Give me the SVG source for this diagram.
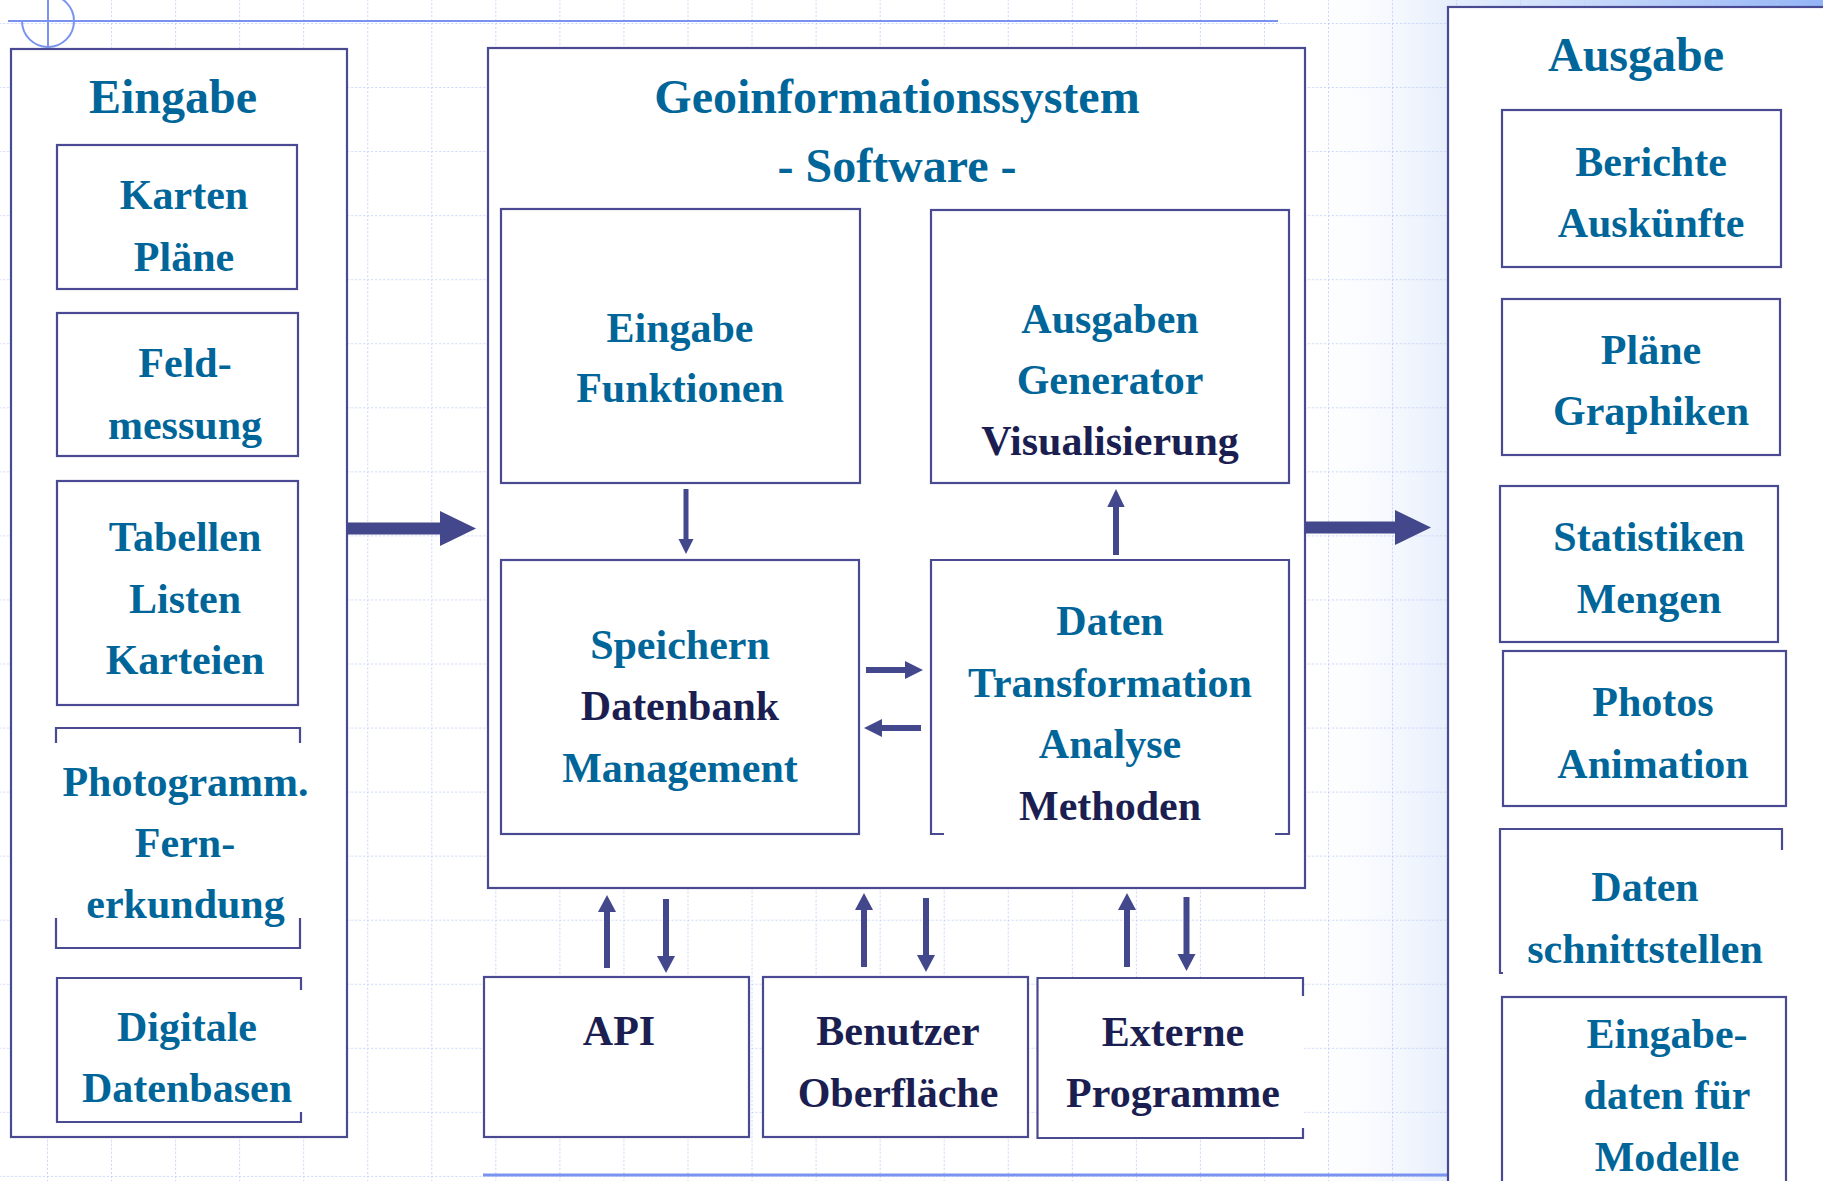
<svg xmlns="http://www.w3.org/2000/svg" width="1823" height="1181" viewBox="0 0 1823 1181">
<defs>
<pattern id="grid" x="-17.05" y="-41.05" width="64.05" height="64.05" patternUnits="userSpaceOnUse">
<line x1="0" y1="0" x2="64.05" y2="0" stroke="#b9c9f7" stroke-width="1.6" stroke-dasharray="2 2"/>
<line x1="0" y1="0" x2="0" y2="64.05" stroke="#b9c9f7" stroke-width="1.6" stroke-dasharray="2 2"/>
</pattern>
<linearGradient id="side" x1="1290" y1="0" x2="1823" y2="0" gradientUnits="userSpaceOnUse">
<stop offset="0" stop-color="#ffffff" stop-opacity="0"/>
<stop offset="0.3" stop-color="#e6eefc"/>
<stop offset="1" stop-color="#93b4f6"/>
</linearGradient>
<style>
.box{fill:#ffffff;stroke:#4a4a92;stroke-width:2.2}
.edge{fill:none;stroke:#4a4a92;stroke-width:2.2}
.t{font-family:"Liberation Serif","Times New Roman",serif;font-weight:bold;font-size:42px;text-anchor:middle;fill:#006699}
.n{fill:#1b1e50}
.big{font-size:48px}
.shaft{stroke:#43478c;fill:none}
.head{fill:#43478c}
</style>
</defs>
<rect width="1823" height="1181" fill="#ffffff"/>
<rect x="1290" y="0" width="533" height="1181" fill="url(#side)"/>
<rect width="1823" height="1181" fill="url(#grid)"/>
<g id="decor" stroke="#7b93f0" stroke-width="2" fill="none">
<line x1="8" y1="21" x2="1278" y2="21"/>
<path d="M22 21 A26 26 0 1 0 48 -5"/>
<line x1="48" y1="0" x2="48" y2="47"/>
<line x1="483" y1="1175" x2="1448" y2="1175" stroke-width="3"/>
</g>

<g id="eingabe">
<rect class="box" x="11" y="49" width="336" height="1088" stroke-width="2.5"/>
<text class="t big" x="173" y="113">Eingabe</text>
</g>
<g id="karten">
<rect class="box" x="57" y="145" width="240" height="144"/>
<text class="t" x="184" y="209">Karten</text>
<text class="t" x="184" y="271">Pläne</text>
</g>
<g id="feldmessung">
<rect class="box" x="57" y="313" width="241" height="143"/>
<text class="t" x="185" y="377">Feld-</text>
<text class="t" x="185" y="439">messung</text>
</g>
<g id="tabellen">
<rect class="box" x="57" y="481" width="241" height="224"/>
<text class="t" x="185" y="551">Tabellen</text>
<text class="t" x="185" y="613">Listen</text>
<text class="t" x="185" y="674">Karteien</text>
</g>
<g id="photogramm">
<path class="edge" d="M56 743 V728 H300 V743 M56 918 V948 H300 V918"/>
<text class="t" x="185.5" y="796">Photogramm.</text>
<text class="t" x="185" y="857">Fern-</text>
<text class="t" x="185.5" y="918">erkundung</text>
</g>
<g id="digitale">
<path class="edge" d="M301 990 V978 H57 V1122 H301 V1112"/>
<text class="t" x="187" y="1041">Digitale</text>
<text class="t" x="187" y="1102">Datenbasen</text>
</g>

<g id="gis">
<rect class="box" x="488" y="48" width="817" height="840" stroke-width="2.5"/>
<text class="t big" x="897" y="113">Geoinformationssystem</text>
<text class="t big" x="897" y="182">- Software -</text>
</g>
<g id="eingabefunktionen">
<rect class="box" x="501" y="209" width="359" height="274"/>
<text class="t" x="680" y="342">Eingabe</text>
<text class="t" x="680" y="402">Funktionen</text>
</g>
<g id="ausgabengenerator">
<rect class="box" x="931" y="210" width="358" height="273"/>
<text class="t" x="1110" y="333">Ausgaben</text>
<text class="t" x="1110" y="394">Generator</text>
<text class="t n" x="1110" y="455">Visualisierung</text>
</g>
<g id="speichern">
<rect class="box" x="501" y="560" width="358" height="274"/>
<text class="t" x="680" y="659">Speichern</text>
<text class="t n" x="680" y="720">Datenbank</text>
<text class="t" x="680" y="782">Management</text>
</g>
<g id="datentransformation">
<rect x="931" y="560" width="358" height="274" fill="#ffffff"/>
<path class="edge" d="M944 834 H931 V560 H1289 V834 H1275"/>
<text class="t" x="1110" y="635">Daten</text>
<text class="t" x="1110" y="697">Transformation</text>
<text class="t" x="1110" y="758">Analyse</text>
<text class="t n" x="1110" y="820">Methoden</text>
</g>

<g id="api">
<rect class="box" x="484" y="977" width="265" height="160"/>
<text class="t n" x="619" y="1045">API</text>
</g>
<g id="benutzer">
<rect class="box" x="763" y="977" width="265" height="160"/>
<text class="t n" x="898" y="1045">Benutzer</text>
<text class="t n" x="898" y="1107">Oberfläche</text>
</g>
<g id="externe">
<rect x="1037.5" y="978" width="265.5" height="160" fill="#ffffff"/>
<path class="edge" d="M1303 996 V978 H1037.5 V1138 H1303 V1128"/>
<text class="t n" x="1173" y="1046">Externe</text>
<text class="t n" x="1173" y="1107">Programme</text>
</g>

<g id="ausgabe">
<rect class="box" x="1448" y="7" width="400" height="1200" stroke-width="2.5"/>
<text class="t big" x="1636" y="71">Ausgabe</text>
</g>
<g id="berichte">
<rect class="box" x="1502" y="110" width="279" height="157"/>
<text class="t" x="1651" y="176">Berichte</text>
<text class="t" x="1651" y="237">Auskünfte</text>
</g>
<g id="plaene">
<rect class="box" x="1502" y="299" width="278" height="156"/>
<text class="t" x="1651" y="364">Pläne</text>
<text class="t" x="1651" y="425">Graphiken</text>
</g>
<g id="statistiken">
<rect class="box" x="1500" y="486" width="278" height="156"/>
<text class="t" x="1649" y="551">Statistiken</text>
<text class="t" x="1649" y="613">Mengen</text>
</g>
<g id="photos">
<rect class="box" x="1503" y="651" width="283" height="155"/>
<text class="t" x="1653" y="716">Photos</text>
<text class="t" x="1653" y="778">Animation</text>
</g>
<g id="datenschnittstellen">
<path class="edge" d="M1503 973 H1500 V829 H1782 V850"/>
<text class="t" x="1645" y="901">Daten</text>
<text class="t" x="1645" y="963">schnittstellen</text>
</g>
<g id="eingabedaten">
<rect class="box" x="1502" y="997" width="284" height="200"/>
<text class="t" x="1667" y="1048">Eingabe-</text>
<text class="t" x="1667" y="1109">daten für</text>
<text class="t" x="1667" y="1171">Modelle</text>
</g>

<g id="connectors">
<line class="shaft" x1="347" y1="528.5" x2="441" y2="528.5" stroke-width="12"/>
<polygon class="head" points="440,511 476,528.5 440,546"/>
<line class="shaft" x1="1305" y1="527.5" x2="1396" y2="527.5" stroke-width="12"/>
<polygon class="head" points="1395,510 1431,527.5 1395,545"/>
<line class="shaft" x1="686" y1="489" x2="686" y2="540" stroke-width="5"/>
<polygon class="head" points="678.5,539 693.5,539 686,554"/>
<line class="shaft" x1="1116" y1="555" x2="1116" y2="505" stroke-width="6"/>
<polygon class="head" points="1107.3,507 1124.7,507 1116,489"/>
<line class="shaft" x1="866" y1="670" x2="906" y2="670" stroke-width="6"/>
<polygon class="head" points="905,661 923,670 905,679"/>
<line class="shaft" x1="921" y1="728" x2="880" y2="728" stroke-width="6"/>
<polygon class="head" points="882,719 864,728 882,737"/>
<line class="shaft" x1="607" y1="968" x2="607" y2="910" stroke-width="6"/>
<polygon class="head" points="598,912 616,912 607,895"/>
<line class="shaft" x1="666" y1="899" x2="666" y2="958" stroke-width="6"/>
<polygon class="head" points="657,956 675,956 666,973"/>
<line class="shaft" x1="864" y1="967" x2="864" y2="908" stroke-width="6"/>
<polygon class="head" points="855,910 873,910 864,893"/>
<line class="shaft" x1="926" y1="898" x2="926" y2="957" stroke-width="6"/>
<polygon class="head" points="917,955 935,955 926,972"/>
<line class="shaft" x1="1127" y1="967" x2="1127" y2="908" stroke-width="6"/>
<polygon class="head" points="1118,910 1136,910 1127,893"/>
<line class="shaft" x1="1186.5" y1="897" x2="1186.5" y2="956" stroke-width="6"/>
<polygon class="head" points="1177.5,954 1195.5,954 1186.5,971"/>
</g>
</svg>
